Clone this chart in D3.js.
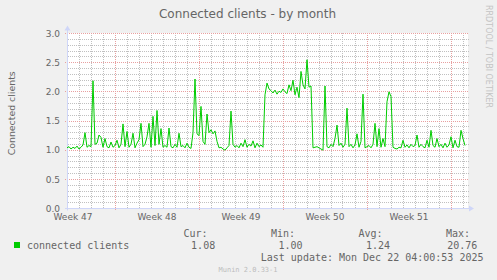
<!DOCTYPE html>
<html>
<head>
<meta charset="utf-8">
<script src="https://cdn.jsdelivr.net/npm/d3@7"></script>
<style>
  body { margin: 0; background: #F0F0F0; }
  svg { display: block; }
  text { fill: #666666; }
  .sans { font-family: "DejaVu Sans", sans-serif; }
  .mono { font-family: "DejaVu Sans Mono", monospace; font-size: 10px; }
  .grid line { shape-rendering: crispEdges; }
</style>
</head>
<body>
<div id="graph"></div>
<script>

// chart size
var svgWidth = 497;
var svgHeight = 280;

var plot = { left: 67, right: 467, top: 33.5, bottom: 208.5 };

// data: one sample every 4 hours starting Thu Nov 20 2025 00:00
var startTime = Date.UTC(2025, 10, 20);
var stepHours = 4;
var clients = [
    1.04, 1.06, 1.02, 1.05, 1.03, 1.07, 1.02, 1.05, 1.09, 1.30,
    1.05, 1.08, 1.06, 2.19, 1.10, 1.12, 1.26, 1.22, 1.05, 1.20,
    1.06, 1.04, 1.14, 1.05, 1.08, 1.17, 1.04, 1.10, 1.45, 1.06,
    1.32, 1.05, 1.10, 1.29, 1.04, 1.12, 1.18, 1.46, 1.06, 1.10,
    1.23, 1.46, 1.05, 1.58, 1.08, 1.68, 1.10, 1.37, 1.05, 1.08,
    1.05, 1.38, 1.06, 1.04, 1.10, 1.05, 1.29, 1.06, 1.08, 1.04,
    1.12, 1.05, 1.03, 1.30, 2.22, 1.28, 1.25, 1.75, 1.15, 1.10,
    1.62, 1.30, 1.35, 1.28, 1.33, 1.15, 1.04, 1.05, 1.02, 1.00,
    1.04, 1.08, 1.67, 1.10, 1.05, 1.08, 1.04, 1.12, 1.06, 1.18,
    1.05, 1.10, 1.07, 1.16, 1.04, 1.12, 1.06, 1.09, 1.05, 1.95,
    2.15, 2.05, 2.02, 1.98, 2.03, 1.96, 2.01, 1.99, 2.05, 2.00,
    1.97, 2.12, 2.02, 2.20, 1.95, 2.08, 1.90, 2.35, 2.12, 2.05,
    2.55, 2.08, 2.10, 1.04, 1.05, 1.06, 1.04, 1.02, 1.00, 2.10,
    1.06, 1.04, 1.10, 1.06, 1.20, 1.43, 1.08, 1.12, 1.05, 1.10,
    1.72, 1.06, 1.10, 1.04, 1.09, 1.28, 1.05, 1.15, 1.96, 1.04,
    1.06, 1.08, 1.04, 1.10, 1.46, 1.06, 1.37, 1.05, 1.20, 1.06,
    1.83, 2.00, 1.92, 1.05, 1.03, 1.02, 1.05, 1.04, 1.17, 1.05,
    1.09, 1.04, 1.10, 1.06, 1.08, 1.26, 1.05, 1.10, 1.06, 1.04,
    1.17, 1.05, 1.34, 1.08, 1.05, 1.20, 1.06, 1.10, 1.04, 1.12,
    1.05, 1.09, 1.23, 1.04, 1.17, 1.06, 1.05, 1.34, 1.20, 1.08
];

// axis ticks
var yMajor = [0, 0.5, 1.0, 1.5, 2.0, 2.5, 3.0];
var weekStarts = ['2025-11-17', '2025-11-24', '2025-12-01', '2025-12-08', '2025-12-15', '2025-12-22'];
var weekLabels = ['Week 47', 'Week 48', 'Week 49', 'Week 50', 'Week 51'];

// legend
var seriesName = 'connected clients';
var statLabels = ['Cur:', 'Min:', 'Avg:', 'Max:'];
var statValues = ['1.08', '1.00', '1.24', '20.76'];
var lastUpdate = 'Last update: Mon Dec 22 04:00:53 2025';

var data = clients.map(function(v, i) {
    return { t: new Date(startTime + i * stepHours * 3600 * 1000), v: v };
});

var svg = d3.select('#graph')
    .append('svg')
    .attr('width', svgWidth)
    .attr('height', svgHeight);

// scales
var xScale = d3.scaleUtc()
    .domain([new Date(startTime), new Date(startTime + 400 / 12 * 86400000)])
    .range([plot.left, plot.right]);

var yScale = d3.scaleLinear()
    .domain([0, 3])
    .range([plot.bottom, plot.top]);

var crisp = function(p) { return Math.round(p - 0.5) + 0.5; };

// canvas
svg.append('rect')
    .attr('x', plot.left)
    .attr('y', plot.top - 0.5)
    .attr('width', plot.right - plot.left + 1)
    .attr('height', plot.bottom - plot.top + 0.5)
    .attr('fill', '#FFFFFF');

var grid = svg.append('g').classed('grid', true);
var weekDates = weekStarts.map(d => new Date(d + 'T00:00:00Z'));
var isWeek = d => weekDates.some(w => +w === +d);

// minor grid (days, tenths)
var days = d3.utcDay.range(xScale.domain()[0], xScale.domain()[1])
    .filter(d => !isWeek(d) && xScale(d) > plot.left);
grid.selectAll('.vminor').data(days)
    .enter().append('line')
    .attr('x1', d => crisp(xScale(d))).attr('x2', d => crisp(xScale(d)))
    .attr('y1', plot.top - 0.5).attr('y2', plot.bottom)
    .attr('stroke', '#C0C0C0').attr('stroke-dasharray', '1,1');

var yMinor = d3.range(1, 30).filter(d => d % 5 !== 0).map(d => d / 10);
grid.selectAll('.hminor').data(yMinor)
    .enter().append('line')
    .attr('x1', plot.left + 1).attr('x2', plot.right + 2)
    .attr('y1', d => crisp(yScale(d))).attr('y2', d => crisp(yScale(d)))
    .attr('stroke', '#C0C0C0').attr('stroke-dasharray', '1,1');

// major grid (weeks, halves)
grid.selectAll('.vmajor').data(weekDates.filter(d => xScale(d) > plot.left))
    .enter().append('line')
    .attr('x1', d => crisp(xScale(d))).attr('x2', d => crisp(xScale(d)))
    .attr('y1', plot.top - 0.5).attr('y2', plot.bottom + 2)
    .attr('stroke', '#E8A0A0').attr('stroke-dasharray', '1,1');

grid.selectAll('.hmajor').data(yMajor.slice(1))
    .enter().append('line')
    .attr('x1', plot.left - 2).attr('x2', plot.right + 2)
    .attr('y1', d => crisp(yScale(d))).attr('y2', d => crisp(yScale(d)))
    .attr('stroke', '#E8A0A0').attr('stroke-dasharray', '1,1');

// y labels
svg.append('g').selectAll('text').data(yMajor)
    .enter().append('text')
    .classed('sans', true)
    .attr('x', plot.left - 7)
    .attr('y', d => yScale(d) + 3.3)
    .attr('text-anchor', 'end')
    .attr('font-size', '9px')
    .text(d => d.toFixed(1));

// x labels, centred within each week
svg.append('g').selectAll('text').data(weekLabels)
    .enter().append('text')
    .classed('sans', true)
    .attr('x', (d, i) => (xScale(weekDates[i]) + xScale(weekDates[i + 1])) / 2)
    .attr('y', 220)
    .attr('text-anchor', 'middle')
    .attr('font-size', '9px')
    .text(d => d);

// axes with arrows
var axisColor = '#CFD6F8';
svg.append('line')
    .attr('x1', plot.left + 0.5).attr('x2', plot.left + 0.5)
    .attr('y1', plot.bottom + 2).attr('y2', plot.top - 4)
    .attr('stroke', axisColor);
svg.append('line')
    .attr('x1', plot.left - 2).attr('x2', plot.right + 4)
    .attr('y1', crisp(plot.bottom)).attr('y2', crisp(plot.bottom))
    .attr('stroke', axisColor);
svg.append('path')
    .attr('d', `M${plot.left - 2.5},${plot.top - 3} L${plot.left + 3.5},${plot.top - 3} L${plot.left + 0.5},${plot.top - 8} Z`)
    .attr('fill', axisColor);
svg.append('path')
    .attr('d', `M${plot.right + 2},${plot.bottom - 3} L${plot.right + 2},${plot.bottom + 3} L${plot.right + 7},${plot.bottom} Z`)
    .attr('fill', axisColor);

// series line
var line = d3.line()
    .x(d => xScale(d.t))
    .y(d => yScale(d.v));

svg.append('path')
    .datum(data)
    .attr('d', line)
    .attr('fill', 'none')
    .attr('stroke', '#00CC00')
    .attr('stroke-width', 1);

// titles
svg.append('text')
    .classed('sans', true)
    .attr('x', 247.5)
    .attr('y', 18)
    .attr('text-anchor', 'middle')
    .attr('font-size', '12px')
    .text('Connected clients - by month');

svg.append('text')
    .classed('sans', true)
    .attr('transform', 'translate(15, 113.3) rotate(-90)')
    .attr('text-anchor', 'middle')
    .attr('font-size', '9.4px')
    .text('Connected clients');

svg.append('text')
    .classed('sans', true)
    .attr('transform', 'translate(485.7, 56.5) rotate(90)')
    .attr('text-anchor', 'middle')
    .attr('font-size', '8px')
    .style('fill', '#C4C4C4')
    .text('RRDTOOL / TOBI OETIKER');

// legend
svg.append('rect')
    .attr('x', 14).attr('y', 242)
    .attr('width', 6).attr('height', 6)
    .attr('fill', '#00CC00');

svg.append('text')
    .classed('mono', true)
    .attr('x', 27).attr('y', 249.3)
    .text(seriesName);

var legend = svg.append('g');
legend.selectAll('.lbl').data(statLabels)
    .enter().append('text')
    .classed('mono', true)
    .attr('x', (d, i) => 207.5 + i * 87.5)
    .attr('y', 237)
    .attr('text-anchor', 'end')
    .text(d => d);

legend.selectAll('.val').data(statValues)
    .enter().append('text')
    .classed('mono', true)
    .attr('x', (d, i) => 215.2 + i * 87.4)
    .attr('y', 249.3)
    .attr('text-anchor', 'end')
    .text(d => d);

svg.append('text')
    .classed('mono', true)
    .attr('x', 483.5).attr('y', 260.7)
    .attr('text-anchor', 'end')
    .text(lastUpdate);

svg.append('text')
    .attr('x', 218.5).attr('y', 271.5)
    .attr('font-family', '"DejaVu Sans Mono", monospace')
    .attr('font-size', '7px')
    .style('fill', '#BDBDBD')
    .text('Munin 2.0.33-1');

</script>
</body>
</html>
